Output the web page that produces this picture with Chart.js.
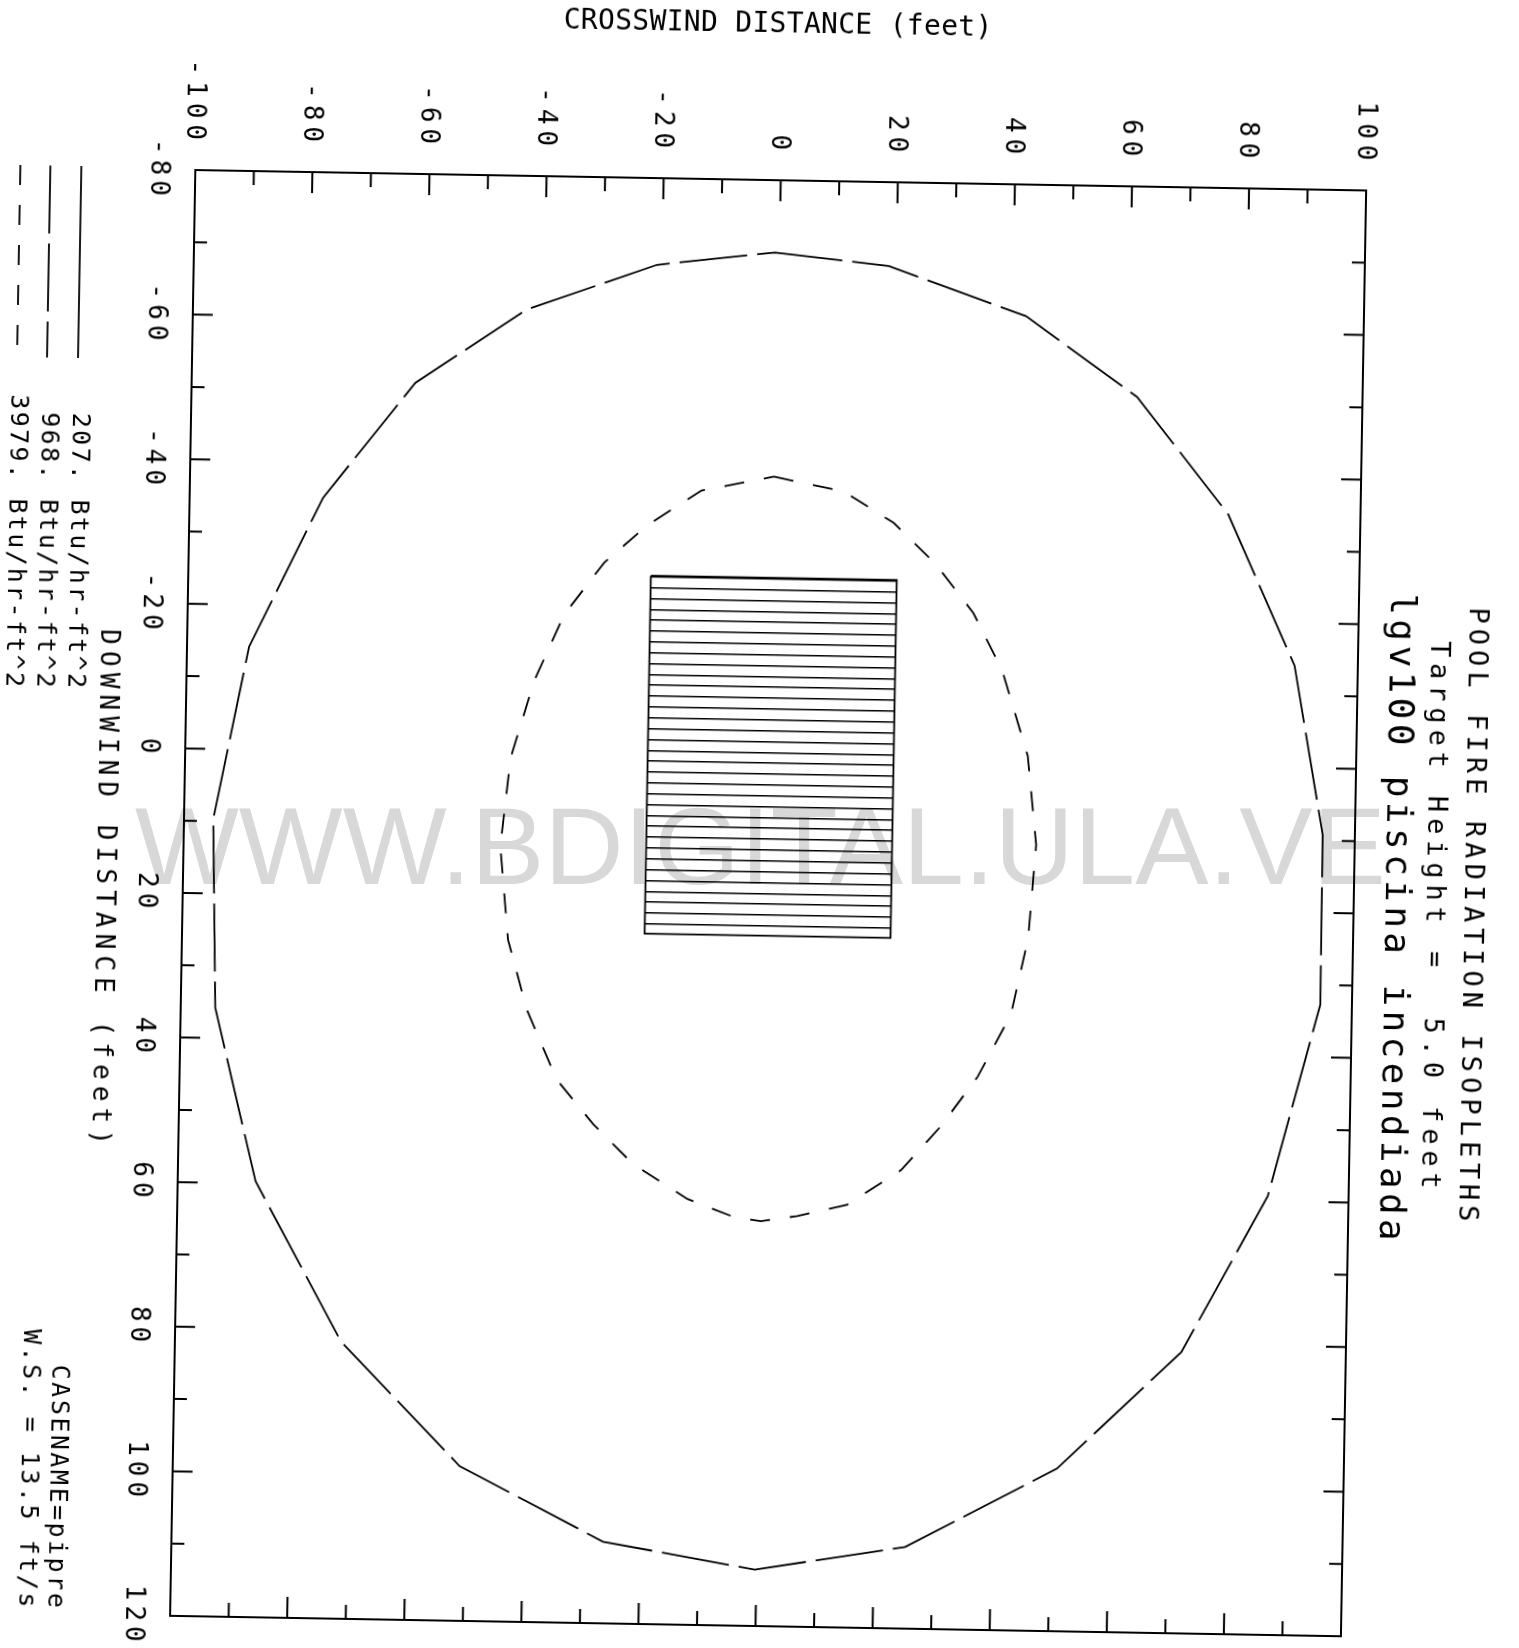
<!DOCTYPE html>
<html>
<head>
<meta charset="utf-8">
<title>Pool fire radiation isopleths</title>
<script src="https://cdn.jsdelivr.net/npm/chart.js@4.4.1/dist/chart.umd.min.js"></script>
<style>
  html, body { margin: 0; padding: 0; background: #fff; }
  body { width: 1519px; height: 1648px; position: relative; overflow: hidden; }
  #mark { position: absolute; left: 135px; top: 791px; font: 110px/1 "Liberation Sans", Arial, sans-serif; color: #d8d8d8; white-space: nowrap; z-index: 0; }
  #plot { position: absolute; left: 0; top: 0; z-index: 1; transform-origin: 760px 824px; transform: rotate(1deg); }
</style>
</head>
<body>
<div id="mark">WWW.BDIGITAL.ULA.VE</div>
<canvas id="plot" width="1519" height="1680"></canvas>
<script>
const crossTicks = [-100, -80, -60, -40, -20, 0, 20, 40, 60, 80, 100];
const downTicks = [-80, -60, -40, -20, 0, 20, 40, 60, 80, 100, 120];

// 968 Btu/hr-ft^2 isopleth
const outerCross = [-0.8, 18.7, 42.3, 61.5, 77.4, 89.2, 94.5, 94.6, 86.2, 71.9, 51.0, 25.3, -0.3,
    -26.3, -51.0, -71.6, -86.7, -94.1, -95.0, -89.4, -77.2, -61.8, -43.0, -20.9, -0.8];
const outerDown = [-70.0, -68.4, -61.8, -50.9, -34.9, -14.1, 9.2, 32.7, 59.3, 81.1, 97.5, 108.7, 112.2,
    108.7, 98.6, 81.7, 59.7, 35.8, 9.7, -14.2, -35.0, -51.1, -61.5, -68.0, -70.0];

// 3979 Btu/hr-ft^2 isopleth
const innerCross = [-0.3, 11.7, 20.3, 27.6, 34.2, 39.3, 43.9, 45.6, 44.5, 41.8, 36.3, 30.2, 23.5, 14.4, 5.9, -0.3,
    -4.9, -12.9, -22.3, -29.2, -35.6, -40.9, -44.3, -45.9, -44.4, -40.6, -35.7, -29.0, -21.7, -12.6, -0.3];
const innerDown = [-39.0, -37.1, -32.9, -27.3, -20.6, -12.7, -1.0, 11.3, 24.3, 34.8, 43.5, 50.4, 56.6, 61.5, 63.2, 64.0,
    63.5, 61.1, 56.4, 51.0, 44.9, 35.3, 25.7, 12.8, 0.5, -10.2, -19.4, -26.7, -32.0, -36.9, -39.0];

// pool outline
const poolCross = [-21, 21, 21, -21, -21];
const poolDown = [-25, -25, 24.5, 24.5, -25];

const levels = ['207. Btu/hr-ft^2', '968. Btu/hr-ft^2', '3979. Btu/hr-ft^2'];
const titleLines = ['POOL FIRE RADIATION ISOPLETHS', 'Target Height =  5.0 feet', 'lgv100 piscina incendiada'];
const caseLines = ['CASENAME=pipre', 'W.S. = 13.5 ft/s'];

const FONT = '"DejaVu Sans Mono", "Liberation Mono", monospace';
const hatchStep = 1.5;

function points(xs, ys) {
    return xs.map((v, i) => ({ x: v, y: ys[i] }));
}

// horizontal hatching for the pool, snapped to whole pixel rows
function hatch(context) {
    const chart = context.chart;
    const y = chart.scales.y;
    if (!y) return 'rgba(0,0,0,0)';
    const y0 = y.getPixelForValue(poolDown[0]);
    const top = Math.round(y0);
    const step = y.getPixelForValue(poolDown[0] + hatchStep) - y0;
    const height = Math.ceil(y.getPixelForValue(poolDown[2]) - top) + 40;
    if (!isFinite(height) || !(step > 2) || height < 60) return 'rgba(0,0,0,0)';
    const tile = document.createElement('canvas');
    tile.width = 8;
    tile.height = height;
    const t = tile.getContext('2d');
    for (let py = 0; py < height - 20; py += step) {
        const r = Math.round(py);
        t.fillStyle = '#000';
        t.fillRect(0, r, 8, 1);
        t.fillStyle = 'rgba(0,0,0,0.5)';
        t.fillRect(0, r + 1, 8, 1);
    }
    const pattern = chart.ctx.createPattern(tile, 'repeat');
    pattern.setTransform(new DOMMatrix().translate(0, top));
    return pattern;
}

function text(ctx, str, x, y, opts) {
    const spacing = opts.spacing || 0;
    const align = opts.align || 'left';
    let shift = 0;
    if (align === 'right') shift = spacing;
    else if (align === 'center') shift = spacing / 2;
    ctx.save();
    ctx.translate(x, y);
    if (opts.rotate) ctx.rotate(Math.PI / 2);
    ctx.font = opts.size + 'px ' + FONT;
    ctx.letterSpacing = spacing + 'px';
    ctx.textAlign = align;
    ctx.textBaseline = 'alphabetic';
    ctx.fillStyle = '#000';
    ctx.fillText(str, shift, 0);
    ctx.restore();
}

// box, inward ticks and all the sideways text of the plotter page
const plotFrame = {
    id: 'plotFrame',
    afterDatasetsDraw(chart) {
        const { ctx, chartArea: a, scales: { x, y } } = chart;
        ctx.save();
        ctx.strokeStyle = '#000';
        ctx.lineWidth = 2;
        ctx.setLineDash([]);
        ctx.strokeRect(a.left, a.top, a.right - a.left, a.bottom - a.top);
        ctx.beginPath();
        x.ticks.forEach(t => {
            const px = x.getPixelForValue(t.value);
            const len = t.value % 20 === 0 ? 21 : 14;
            ctx.moveTo(px, a.top); ctx.lineTo(px, a.top + len);
            ctx.moveTo(px, a.bottom); ctx.lineTo(px, a.bottom - len);
        });
        y.ticks.forEach(t => {
            const py = y.getPixelForValue(t.value);
            const len = t.value % 20 === 0 ? 20 : 13;
            ctx.moveTo(a.left, py); ctx.lineTo(a.left + len, py);
            ctx.moveTo(a.right, py); ctx.lineTo(a.right - len, py);
        });
        ctx.stroke();

        // legend samples
        ctx.lineWidth = 1.8;
        const sx = [70, 39, 9];
        chart.data.datasets.slice(0, 3).forEach((ds, i) => {
            ctx.setLineDash(ds.borderDash || []);
            ctx.beginPath();
            ctx.moveTo(sx[i], 178);
            ctx.lineTo(sx[i], 370);
            ctx.stroke();
        });
        ctx.restore();

        crossTicks.forEach(v => text(ctx, String(v), x.getPixelForValue(v) - 9.5, 150,
            { rotate: true, align: 'right', size: 26, spacing: 6 }));
        downTicks.forEach(v => text(ctx, String(v), 140, y.getPixelForValue(v) - 2,
            { rotate: true, align: 'center', size: 26, spacing: 5 }));

        text(ctx, 'CROSSWIND DISTANCE (feet)', 764, 31.5, { size: 28, align: 'center', spacing: 0.3 });
        text(ctx, 'DOWNWIND DISTANCE (feet)', 98, 898.5, { rotate: true, align: 'center', size: 26, spacing: 6.1 });

        text(ctx, titleLines[0], 1466, 902, { rotate: true, align: 'center', size: 27, spacing: 5.1 });
        text(ctx, titleLines[1], 1428, 903, { rotate: true, align: 'center', size: 27, spacing: 5.9 });
        text(ctx, titleLines[2], 1387, 906, { rotate: true, align: 'center', size: 36, spacing: 4.4 });

        const lx = [66, 35, 4];
        levels.forEach((s, i) => text(ctx, s, lx[i], 700, { rotate: true, align: 'right', size: 25, spacing: 2.3 }));
        text(ctx, caseLines[0], 62, 1620, { rotate: true, align: 'right', size: 25, spacing: 2.5 });
        text(ctx, caseLines[1], 33, 1620, { rotate: true, align: 'right', size: 25, spacing: 2.5 });
    }
};

const lineStyle = { showLine: true, pointRadius: 0, borderColor: '#000', borderWidth: 1.8, tension: 0, fill: false };

const plotData = {
    datasets: [
        { ...lineStyle, label: levels[0], data: [], borderDash: [] },
        { ...lineStyle, label: levels[1], data: points(outerCross, outerDown), borderDash: [68, 10] },
        { ...lineStyle, label: levels[2], data: points(innerCross, innerDown), borderDash: [20, 20] },
        { ...lineStyle, label: 'pool', data: points(poolCross, poolDown), fill: 'shape', backgroundColor: hatch }
    ]
};

const plotOptions = {
    responsive: false,
    animation: false,
    layout: { padding: { left: 184, right: 164, top: 180, bottom: 54 } },
    scales: {
        x: { type: 'linear', display: false, min: -100, max: 100, ticks: { stepSize: 10 } },
        y: { type: 'linear', display: false, reverse: true, min: -80, max: 120, ticks: { stepSize: 10 } }
    },
    plugins: {
        legend: { display: false },
        tooltip: { enabled: false }
    }
};

new Chart(document.getElementById('plot'), {
    type: 'scatter',
    data: plotData,
    options: plotOptions,
    plugins: [plotFrame]
});
</script>
</body>
</html>
